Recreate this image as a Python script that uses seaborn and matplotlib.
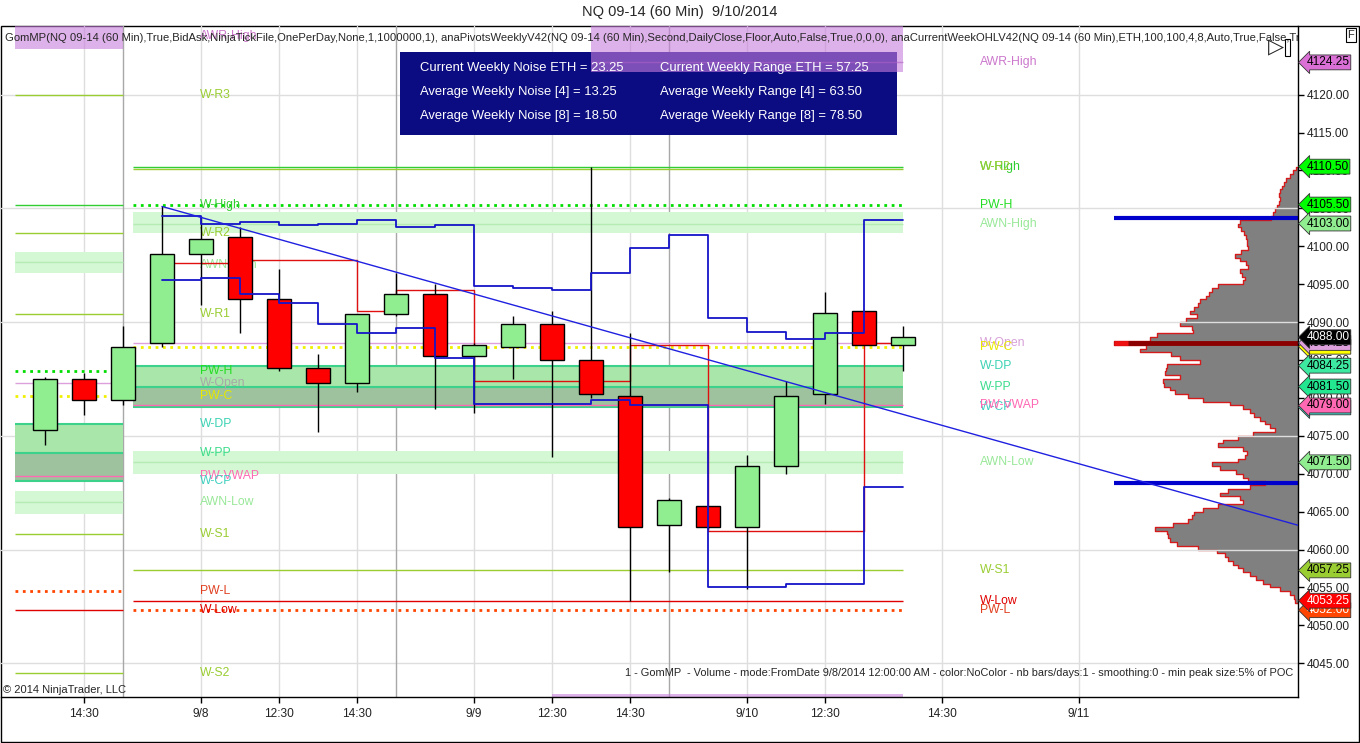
import numpy as np
import matplotlib.pyplot as plt
import seaborn as sns
from matplotlib.patches import Rectangle

sns.set_style("white")
plt.rcParams['font.family'] = ['Liberation Sans', 'DejaVu Sans']

# ---- candles (60 min bars, index 0..22) ----
opens = [4075.75, 4082.5, 4079.75, 4087.25, 4099.0, 4101.25, 4093.0, 4084.0, 4082.0, 4091.0, 4093.75, 4085.5,
         4086.75, 4089.75, 4085.0, 4080.25, 4063.25, 4065.75, 4063.0, 4071.0, 4080.5, 4091.5, 4087.0]
highs = [4082.75, 4083.25, 4089.5, 4105.25, 4104.0, 4102.5, 4097.0, 4085.75, 4091.0, 4096.5, 4095.0, 4087.25,
         4090.75, 4091.5, 4110.5, 4088.5, 4066.75, 4065.75, 4072.5, 4082.25, 4094.0, 4091.5, 4089.5]
lows = [4073.75, 4077.75, 4079.0, 4086.75, 4092.25, 4088.5, 4083.5, 4075.5, 4080.75, 4090.75, 4078.5, 4078.0,
        4082.5, 4072.25, 4080.0, 4053.25, 4057.0, 4062.75, 4054.75, 4070.0, 4079.25, 4087.0, 4083.5]
closes = [4082.5, 4079.75, 4086.75, 4099.0, 4101.0, 4093.0, 4084.0, 4082.0, 4091.0, 4093.75, 4085.5, 4087.0,
          4089.75, 4085.0, 4080.5, 4063.0, 4066.5, 4063.0, 4071.0, 4080.25, 4091.25, 4087.0, 4088.0]

# ---- step lines (value held from bar i to bar i+1) ----
step_x = list(range(3, 23))
upper_band = [4104.0, 4103.0, 4103.25, 4102.75, 4103.0, 4103.5, 4102.5, 4102.75, 4094.75, 4094.5, 4094.25,
              4096.5, 4099.75, 4101.5, 4090.5, 4088.75, 4087.75, 4088.5, 4103.5]
mid_band = [4095.5, 4095.75, 4093.75, 4092.5, 4089.75, 4088.5, 4089.25, 4085.25, 4079.25, 4079.25, 4079.25,
            4079.75, 4079.0, 4079.0, 4055.0, 4055.0, 4055.5, 4055.5, 4068.25]
red_step = [4097.75, 4097.75, 4098.25, 4098.25, 4098.25, 4091.5, 4094.25, 4094.25, 4082.25, 4082.25, 4082.25,
            4082.25, 4087.0, 4087.0, 4062.5, 4062.5, 4062.5, 4062.5, 4087.25]

trend_x = [3, 32.13]
trend_y = [4105.25, 4063.2]

# ---- weekly pivot levels ----
prev_names = ['W-R3', 'W-High', 'W-R2', 'W-R1', 'PW-H', 'W-Open', 'PW-C', 'PW-VWAP', 'W-S1', 'PW-L', 'W-Low', 'W-S2']
prev_prices = [4120.0, 4105.5, 4101.75, 4091.0, 4083.5, 4082.0, 4080.25, 4069.75, 4062.0, 4054.5, 4052.0, 4043.75]
prev_zone = {'DP': 4076.5, 'PP': 4072.75, 'CP': 4069.0}
prev_awn = [(4096.5, 4097.9, 4099.25), (4064.75, 4066.25, 4067.75)]
prev_awr_high = 4126.0

cur_names = ['W-High', 'W-R2', 'PW-H', 'W-Open', 'PW-C', 'PW-VWAP', 'W-S1', 'W-Low', 'PW-L']
cur_prices = [4110.5, 4110.25, 4105.5, 4087.25, 4086.75, 4079.0, 4057.25, 4053.25, 4052.0]
cur_zone = {'DP': 4084.25, 'PP': 4081.5, 'CP': 4078.75}
cur_awn = [(4101.75, 4103.0, 4104.5), (4070.0, 4071.5, 4073.0)]
cur_awr_high = (4123.0, 4124.25)
cur_awr_low = 4041.0

prev_label_names = ['AWR-High', 'W-R3', 'W-High', 'W-R2', 'AWN-High', 'W-R1', 'PW-H', 'W-Open', 'PW-C', 'W-DP',
                    'W-PP', 'PW-VWAP', 'W-CP', 'AWN-Low', 'W-S1', 'PW-L', 'W-Low', 'W-S2']
prev_label_prices = [4127.75, 4120.0, 4105.5, 4101.75, 4097.5, 4091.0, 4083.5, 4082.0, 4080.25, 4076.5,
                     4072.75, 4069.75, 4069.0, 4066.25, 4062.0, 4054.5, 4052.0, 4043.75]
cur_label_names = ['AWR-High', 'W-High', 'W-R2', 'PW-H', 'AWN-High', 'W-Open', 'PW-C', 'W-DP', 'W-PP',
                   'W-CP', 'PW-VWAP', 'AWN-Low', 'W-S1', 'W-Low', 'PW-L']
cur_label_prices = [4124.25, 4110.5, 4110.5, 4105.5, 4103.0, 4087.25, 4086.75, 4084.25, 4081.5,
                    4078.75, 4079.0, 4071.5, 4057.25, 4053.25, 4052.0]

# ---- volume profile (price bins of 0.5, widths from top to bottom) ----
vp_top = 4110.25
vp_vol = [2, 5, 8, 12, 14, 16, 18, 19, 18, 19, 21, 23, 25, 27, 58, 60, 57, 54, 52, 51, 51, 50, 57, 63, 58, 52,
          50, 58, 56, 53, 55, 80, 86, 89, 92, 98, 100, 104, 108, 101, 112, 118, 106, 105, 141, 148, 184, 152,
          158, 127, 118, 98, 131, 132, 133, 118, 135, 134, 128, 123, 110, 95, 68, 55, 48, 44, 38, 33, 28, 23,
          45, 60, 75, 80, 55, 51, 53, 60, 86, 78, 62, 55, 50, 33, 48, 70, 78, 58, 55, 80, 95, 104, 106, 110,
          125, 143, 131, 130, 128, 121, 100, 81, 73, 70, 65, 60, 55, 48, 42, 35, 28, 18, 8, 4, 3]
poc_price = 4087.25
va_high, va_low = 4103.75, 4068.75

# ---- axis labels / tags ----
xtick_pos = [1, 4, 6, 8, 11, 13, 15, 18, 20, 23, 26.5]
xtick_labels = ['14:30', '9/8', '12:30', '14:30', '9/9', '12:30', '14:30', '9/10', '12:30', '14:30', '9/11']
session_breaks = [2, 9, 16]
tag_prices = [4124.25, 4110.5, 4105.5, 4103.0, 4086.75, 4087.25, 4088.0, 4084.25, 4081.5, 4078.75, 4079.0,
              4071.5, 4057.25, 4052.0, 4053.25]

info_rows = [('Current Weekly Noise ETH = 23.25', 'Current Weekly Range ETH = 57.25'),
             ('Average Weekly Noise [4] = 13.25', 'Average Weekly Range [4] = 63.50'),
             ('Average Weekly Noise [8] = 18.50', 'Average Weekly Range [8] = 78.50')]

header = ("GomMP(NQ 09-14 (60 Min),True,BidAsk,NinjaTickFile,OnePerDay,None,1,1000000,1), "
          "anaPivotsWeeklyV42(NQ 09-14 (60 Min),Second,DailyClose,Floor,Auto,False,True,0,0,0), "
          "anaCurrentWeekOHLV42(NQ 09-14 (60 Min),ETH,100,100,4,8,Auto,True,False,True,True)")
footer = ("1 - GomMP  - Volume - mode:FromDate 9/8/2014 12:00:00 AM - color:NoColor - nb bars/days:1 - "
          "smoothing:0 - min peak size:5% of POC")

# ---- styles ----
YG = '#9ACD32'
level_style = {
    'W-R3': (YG, '-', 1.0), 'W-R2': (YG, '-', 1.0), 'W-R1': (YG, '-', 1.0), 'W-S1': (YG, '-', 1.0),
    'W-S2': (YG, '-', 1.0), 'W-High': ('#32CD32', '-', 1.0), 'PW-H': ('#00DD00', ':', 2.0),
    'W-Open': ('#DDA0DD', '-', 1.0), 'PW-C': ('#F0F000', ':', 2.0), 'PW-VWAP': ('#FF69B4', '-', 1.0),
    'W-Low': ('#E00000', '-', 1.0), 'PW-L': ('#FF4500', ':', 2.0),
}
label_color = {
    'AWR-High': '#CC77CC', 'W-R3': YG, 'W-R2': YG, 'W-R1': YG, 'W-S1': YG, 'W-S2': YG,
    'W-High': '#32CD32', 'AWN-High': '#98E898', 'AWN-Low': '#98E898', 'PW-H': '#22DD22',
    'W-Open': '#D8A0D8', 'PW-C': '#E8E800', 'W-DP': '#3CD2B4', 'W-PP': '#3CDC8C', 'W-CP': '#40D0C0',
    'PW-VWAP': '#FF69B4', 'W-Low': '#E00000', 'PW-L': '#E04020',
}
tag_style = {
    4124.25: ('#DA70D6', 'black'), 4110.5: ('#00FF00', 'black'), 4105.5: ('#00FF00', 'black'),
    4103.0: ('#90EE90', 'black'), 4086.75: ('#FFFF00', 'black'), 4087.25: ('#DDA0DD', 'black'),
    4088.0: ('black', 'white'), 4084.25: ('#3DE8A0', 'black'), 4081.5: ('#22E690', 'black'),
    4078.75: ('#40E0D0', 'black'), 4079.0: ('#FF69B4', 'black'), 4071.5: ('#90EE90', 'black'),
    4057.25: ('#9ACD32', 'black'), 4052.0: ('#FF4500', 'white'), 4053.25: ('#FF0000', 'white'),
}

W, H = 1360, 743
AX_L, AX_R, AX_T, AX_B = 1, 1298, 26, 697
fig = plt.figure(figsize=(W / 100, H / 100), dpi=100)
ax = fig.add_axes([AX_L / W, (H - AX_B) / H, (AX_R - AX_L) / W, (AX_B - AX_T) / H])
ax_p = fig.add_axes([1098 / W, (H - AX_B) / H, 200 / W, (AX_B - AX_T) / H], sharey=ax)
ax.set_zorder(2)
ax_p.set_zorder(1)
ax.patch.set_visible(False)


def axpx(px, py):
    return (px - AX_L) / (AX_R - AX_L), (AX_B - py) / (AX_B - AX_T)


ax.set_xlim(-1.128, 32.128)
ax.set_ylim(4040.55, 4129.05)

# grid
for v in range(4045, 4121, 15):
    ax.axhline(v, color='#DEDEDE', lw=1, zorder=0.5)
for t in xtick_pos:
    ax.axvline(t, color='#DEDEDE', lw=1, zorder=0.5)
for s in session_breaks:
    ax.axvline(s, color='#A8A8A8', lw=1, zorder=0.6)

# previous week section
PL, PR = -0.77, 2.0
ax.fill_between([PL, PR], prev_awr_high, 4131, color='#C77DDB', alpha=0.6, lw=0, zorder=1)
for lo, mid, hi in prev_awn:
    ax.fill_between([PL, PR], lo, hi, color='#D4F7D4', lw=0, zorder=1)
    ax.hlines(mid, PL, PR, color='#B4ECB4', lw=1, zorder=1.1)
ax.fill_between([PL, PR], prev_zone['PP'], prev_zone['DP'], color='#A9E6A9', lw=0, zorder=1)
ax.fill_between([PL, PR], prev_zone['CP'], prev_zone['PP'], color='#9DC29D', lw=0, zorder=1)
ax.hlines([prev_zone['DP'], prev_zone['PP'], prev_zone['CP']], PL, PR, color='#3CD28C', lw=1.5, zorder=1.2)
for name, p in zip(prev_names, prev_prices):
    c, ls, lw = level_style[name]
    ax.hlines(p, PL, PR, color=c, linestyles=ls, lw=lw, zorder=2)

# current week section
CL, CR = 2.26, 22.0
ax.fill_between([14, CR], cur_awr_high[0], 4131, color='#C77DDB', alpha=0.6, lw=0, zorder=6)
ax.hlines(cur_awr_high[1], 14, CR, color='#B060C8', lw=1, alpha=0.6, zorder=6)
ax.fill_between([13, CR], 4036, cur_awr_low, color='#C77DDB', alpha=0.6, lw=0, zorder=1)
for lo, mid, hi in cur_awn:
    ax.fill_between([CL, CR], lo, hi, color='#D4F7D4', lw=0, zorder=1)
    ax.hlines(mid, CL, CR, color='#B4ECB4', lw=1, zorder=1.1)
ax.fill_between([CL, CR], cur_zone['PP'], cur_zone['DP'], color='#A9E6A9', lw=0, zorder=1)
ax.fill_between([CL, CR], cur_zone['CP'], cur_zone['PP'], color='#9DC29D', lw=0, zorder=1)
ax.hlines([cur_zone['DP'], cur_zone['PP'], cur_zone['CP']], CL, CR, color='#3CD28C', lw=1.5, zorder=1.2)
for name, p in zip(cur_names, cur_prices):
    c, ls, lw = level_style[name]
    ax.hlines(p, CL, CR, color=c, linestyles=ls, lw=lw, zorder=2)

# level labels
for name, p in zip(prev_label_names, prev_label_prices):
    col = '#A8A8A8' if name == 'W-Open' else label_color[name]
    ax.text(3.97, p, name, color=col, fontsize=8.8, va='center', ha='left', zorder=2.5)
for name, p in zip(cur_label_names, cur_label_prices):
    ax.text(23.97, p, name, color=label_color[name], fontsize=8.8, va='center', ha='left', zorder=2.5)

# step lines
ax.plot(step_x, red_step + red_step[-1:], drawstyle='steps-post', color='#E01010', lw=1, zorder=2.8)
sns.lineplot(x=step_x, y=upper_band + upper_band[-1:], drawstyle='steps-post', color='#1515C8', lw=1.3,
             ax=ax, zorder=4.2)
sns.lineplot(x=step_x, y=mid_band + mid_band[-1:], drawstyle='steps-post', color='#1515C8', lw=1.3,
             ax=ax, zorder=4.2)

# candles
xs = np.arange(len(opens))
o, c = np.array(opens), np.array(closes)
up = c >= o
ax.vlines(xs, lows, highs, color='black', lw=1, zorder=3)
ax.bar(xs, np.abs(c - o), bottom=np.minimum(o, c), width=0.62,
       color=np.where(up, '#90EE90', '#FF0000'), edgecolor='black', linewidth=1, zorder=4)

# trend line
ax.plot(trend_x, trend_y, color='#2020E0', lw=1, zorder=4.5, clip_on=True)

# info box
bx0, by0 = axpx(400, 135)
bx1, by1 = axpx(897, 52)
ax.add_patch(Rectangle((bx0, by0), bx1 - bx0, by1 - by0, transform=ax.transAxes, fc='#0B0B82', ec='none',
                       zorder=5))
for i, (left_t, right_t) in enumerate(info_rows):
    ty = 68 + 24 * i
    ax.text(*axpx(420, ty), left_t, transform=ax.transAxes, color='white', fontsize=9.4, va='center', zorder=7)
    ax.text(*axpx(660, ty), right_t, transform=ax.transAxes, color='white', fontsize=9.4, va='center', zorder=7)

# header and footer texts
ax.text(*axpx(5, 38), header, transform=ax.transAxes, fontsize=8.1, va='center', ha='left', zorder=8,
        clip_on=True)
ax.text(*axpx(1293, 673), footer, transform=ax.transAxes, fontsize=7.9, va='center', ha='right', zorder=8)
ax.text(*axpx(3, 690), '\u00a9 2014 NinjaTrader, LLC', transform=ax.transAxes, fontsize=8, va='center',
        ha='left', zorder=8)

# volume profile
vp_prices = vp_top - 0.5 * np.arange(len(vp_vol))
edges = np.append(vp_prices[::-1] - 0.25, vp_prices[0] + 0.25)
vols = np.array(vp_vol[::-1], dtype=float)
yy = np.repeat(edges, 2)[1:-1]
xx = np.repeat(vols, 2)
ax_p.fill_betweenx(yy, 0, xx, color='#808080', lw=0)
ax_p.plot(np.concatenate([[0], xx, [0]]), np.concatenate([[yy[0]], yy, [yy[-1]]]), color='#D41A1A', lw=1)
poc_w = vols.max()
ax_p.hlines(poc_price, 0, poc_w, color='#8B0000', lw=3.5)
ax_p.hlines(poc_price, poc_w - 14, poc_w, color='#EE1111', lw=3.5)
ax_p.hlines([va_high, va_low], 0, poc_w, color='#0000CD', lw=3)
ax_p.set_xlim(200, 0)
ax_p.axis('off')

# axes cosmetics
ax.set_xticks(xtick_pos, xtick_labels)
ax.yaxis.tick_right()
yt = np.arange(4045, 4121, 5)
ax.set_yticks(yt, [f'{v:.2f}' for v in yt])
ax.tick_params(axis='both', direction='out', length=4, width=1, color='black', labelsize=8.6,
               labelcolor='#222222', bottom=True, right=True, left=False)
ax.tick_params(axis='x', pad=4)
ax.tick_params(axis='y', pad=2)
for side in ['left', 'top']:
    ax.spines[side].set_visible(False)
for side in ['right', 'bottom']:
    ax.spines[side].set_color('black')
    ax.spines[side].set_linewidth(1)

# price tags on the right axis
for p in tag_prices:
    fc, tc = tag_style[p]
    ax.annotate(f'{p:.2f}', xy=(1.0, p), xycoords=('axes fraction', 'data'), xytext=(6, 0),
                textcoords='offset points', ha='left', va='center', fontsize=8.6, color=tc,
                bbox=dict(boxstyle='larrow,pad=0.12', fc=fc, ec='#333333', lw=0.6),
                annotation_clip=False, zorder=10)

# window chrome
fig.text(0.5, 1 - 12 / H, 'NQ 09-14 (60 Min)  9/10/2014', ha='center', va='center', fontsize=10.5)
fig.add_artist(Rectangle((0.5 / W, 1 - 741.5 / H), 1358.5 / W, 716 / H, transform=fig.transFigure,
                         fill=False, ec='black', lw=1))
fig.text(1351 / W, 1 - 35 / H, 'F', fontsize=8, ha='center', va='center',
         bbox=dict(boxstyle='square,pad=0.15', fc='white', ec='black', lw=0.8))
fig.text(1276 / W, 1 - 47 / H, '\u25b7', fontsize=15, ha='center', va='center', family='DejaVu Sans')
fig.add_artist(Rectangle((1285 / W, 1 - 56 / H), 5 / W, 17 / H, transform=fig.transFigure,
                         fill=False, ec='black', lw=0.8))

fig.savefig('out.png', dpi=100)
